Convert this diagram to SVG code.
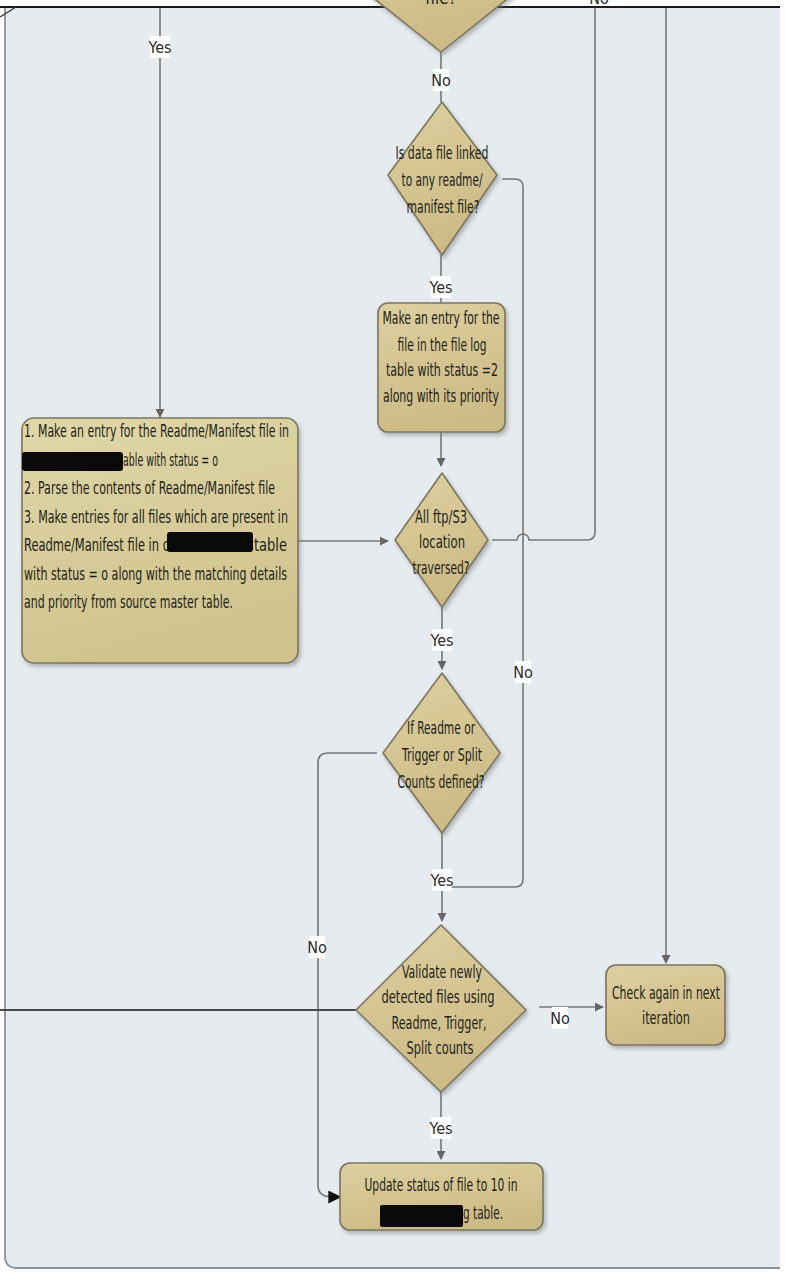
<svg xmlns="http://www.w3.org/2000/svg" width="785" height="1273" viewBox="0 0 785 1273">
  <defs>
    <linearGradient id="tan" x1="0" y1="0" x2="0.3" y2="1">
      <stop offset="0" stop-color="#ddd0a0"/>
      <stop offset="1" stop-color="#cdbb86"/>
    </linearGradient>
    <linearGradient id="tanLight" x1="0" y1="0" x2="0.3" y2="1">
      <stop offset="0" stop-color="#e0d7a8"/>
      <stop offset="1" stop-color="#d0c38e"/>
    </linearGradient>
    <filter id="shadow" x="-10%" y="-10%" width="130%" height="130%">
      <feDropShadow dx="2" dy="3" stdDeviation="2" flood-color="#6d6d6d" flood-opacity="0.45"/>
    </filter>
    <marker id="arrow" viewBox="0 0 10 10" refX="9" refY="5" markerWidth="9" markerHeight="9" markerUnits="userSpaceOnUse" orient="auto">
      <path d="M0,0 L10,5 L0,10 Z" fill="#666"/>
    </marker>
    <marker id="arrowBlack" viewBox="0 0 10 10" refX="9" refY="5" markerWidth="13" markerHeight="13" markerUnits="userSpaceOnUse" orient="auto">
      <path d="M0,0 L10,5 L0,10 Z" fill="#111"/>
    </marker>
  </defs>
  <style>
    .shape { fill: url(#tan); stroke: #7c7560; stroke-width: 1.6; stroke-linejoin: round; filter: url(#shadow); }
    .shapeLight { fill: url(#tanLight); stroke: #7c7560; stroke-width: 1.6; stroke-linejoin: round; filter: url(#shadow); }
    .txt { font-family: "Liberation Sans Narrow", "DejaVu Sans Condensed", "Liberation Sans", sans-serif; font-size: 17px; fill: #221f18; }
    .mid { text-anchor: middle; }
    .conn { fill: none; stroke: #777; stroke-width: 1.6; }
    .lbl { fill: #ffffff; }
    .lbltxt { font-family: "Liberation Sans Narrow", "DejaVu Sans Condensed", "Liberation Sans", sans-serif; font-size: 16px; fill: #2b2b2b; text-anchor: middle; }
    .redact { fill: #0a0a0a; }
  </style>

  <!-- page -->
  <rect x="0" y="0" width="785" height="1273" fill="#ffffff"/>
  <!-- swimlane panel -->
  <path d="M5,8 H780 V1268 H17 Q5,1268 5,1256 Z" fill="#e5ebef"/>
  <path d="M5,8 V1256 Q5,1268 17,1268 H780" fill="none" stroke="#8e9296" stroke-width="1.8"/>
  <line x1="0" y1="7" x2="780" y2="7" stroke="#1a1a1a" stroke-width="1.8"/>
  <line x1="0" y1="17" x2="16" y2="7" stroke="#333" stroke-width="1.4"/>

  <!-- connectors -->
  <g id="connectors">
    <line class="conn" x1="160" y1="8" x2="160" y2="417" marker-end="url(#arrow)"/>
    <line class="conn" x1="441" y1="52" x2="441" y2="102"/>
    <line class="conn" x1="441" y1="255" x2="441" y2="303"/>
    <line class="conn" x1="441" y1="432" x2="441" y2="466" marker-end="url(#arrow)"/>
    <line class="conn" x1="298" y1="541" x2="388" y2="541" marker-end="url(#arrow)"/>
    <!-- not-traversed loop back to the top -->
    <path class="conn" d="M492,540 H517 A6,6 0 0 1 529,540 H587 Q595,540 595,532 V8"/>
    <!-- not linked: bypass to validation -->
    <path class="conn" d="M502,179 H515 Q523,179 523,187 V879 Q523,887 515,887 H450"/>
    <line class="conn" x1="442" y1="607" x2="442" y2="669" marker-end="url(#arrow)"/>
    <line class="conn" x1="442" y1="833" x2="442" y2="921" marker-end="url(#arrow)"/>
    <path class="conn" d="M377,753 H328 Q318,753 318,763 V1185 Q318,1197 332,1197" stroke="#555"/>
    <line x1="332" y1="1197" x2="340" y2="1197" stroke="#111" stroke-width="1.6" marker-end="url(#arrowBlack)"/>
    <line x1="0" y1="1010" x2="356" y2="1010" stroke="#4a4a4a" stroke-width="2.2"/>
    <line class="conn" x1="539" y1="1007" x2="603" y2="1007" marker-end="url(#arrow)"/>
    <line class="conn" x1="666" y1="8" x2="666" y2="963" marker-end="url(#arrow)"/>
    <line class="conn" x1="441" y1="1092" x2="441" y2="1159" marker-end="url(#arrow)"/>
  </g>

  <!-- connector labels -->
  <g id="labels">
    <rect class="lbl" x="150" y="36" width="20" height="22"/>
    <text class="lbltxt" x="160" y="53">Yes</text>
    <rect class="lbl" x="433" y="69" width="16" height="22"/>
    <text class="lbltxt" x="441" y="86">No</text>
    <rect class="lbl" x="591" y="-8" width="16" height="14"/>
    <text class="lbltxt" x="599" y="4">No</text>
    <rect class="lbl" x="431" y="276" width="20" height="22"/>
    <text class="lbltxt" x="441" y="293">Yes</text>
    <rect class="lbl" x="432" y="629" width="20" height="22"/>
    <text class="lbltxt" x="442" y="646">Yes</text>
    <rect class="lbl" x="515" y="661" width="16" height="22"/>
    <text class="lbltxt" x="523" y="678">No</text>
    <rect class="lbl" x="432" y="869" width="20" height="22"/>
    <text class="lbltxt" x="442" y="886">Yes</text>
    <rect class="lbl" x="309" y="936" width="16" height="22"/>
    <text class="lbltxt" x="317" y="953">No</text>
    <rect class="lbl" x="552" y="1007" width="16" height="22"/>
    <text class="lbltxt" x="560" y="1024">No</text>
    <rect class="lbl" x="431" y="1117" width="20" height="22"/>
    <text class="lbltxt" x="441" y="1134">Yes</text>
  </g>

  <!-- decision cut off at the top edge -->
  <g id="decision-readme-file">
    <polygon class="shape" points="441,-108 541,-28 441,52 341,-28"/>
    <text class="txt mid" x="441" y="4">file?</text>
  </g>

  <g id="decision-linked">
    <polygon class="shape" points="442,102 497,175 442,255 388,175"/>
    <text class="txt mid" x="442" y="159" textLength="93" lengthAdjust="spacingAndGlyphs">Is data file linked</text>
    <text class="txt mid" x="442" y="186" textLength="81" lengthAdjust="spacingAndGlyphs">to any readme/</text>
    <text class="txt mid" x="443" y="213" textLength="73" lengthAdjust="spacingAndGlyphs">manifest file?</text>
  </g>

  <g id="entry-file-log">
    <rect class="shape" x="378" y="303" width="127" height="129" rx="10"/>
    <text class="txt mid" x="441" y="324" textLength="117" lengthAdjust="spacingAndGlyphs">Make an entry for the</text>
    <text class="txt mid" x="442" y="351" textLength="89" lengthAdjust="spacingAndGlyphs">file in the file log</text>
    <text class="txt mid" x="442" y="376" textLength="112" lengthAdjust="spacingAndGlyphs">table with status =2</text>
    <text class="txt mid" x="441" y="402" textLength="116" lengthAdjust="spacingAndGlyphs">along with its priority</text>
  </g>

  <g id="readme-manifest-entry">
    <rect class="shapeLight" x="22" y="418" width="276" height="245" rx="12"/>
    <text class="txt" x="24" y="437" textLength="265" lengthAdjust="spacingAndGlyphs">1. Make an entry for the Readme/Manifest file in</text>
    <rect class="redact" x="22" y="452" width="101" height="19" rx="3"/>
    <text class="txt" x="123" y="466" textLength="95" lengthAdjust="spacingAndGlyphs">able with status = o</text>
    <text class="txt" x="24" y="494" textLength="251" lengthAdjust="spacingAndGlyphs">2. Parse the contents of Readme/Manifest file</text>
    <text class="txt" x="24" y="523" textLength="264" lengthAdjust="spacingAndGlyphs">3. Make entries for all files which are present in</text>
    <text class="txt" x="24" y="551" textLength="145" lengthAdjust="spacingAndGlyphs">Readme/Manifest  file in c</text>
    <rect class="redact" x="167" y="532" width="86" height="20" rx="3"/>
    <text class="txt" x="254" y="551" textLength="33" lengthAdjust="spacingAndGlyphs">table</text>
    <text class="txt" x="24" y="580" textLength="263" lengthAdjust="spacingAndGlyphs">with status = o along with the matching details</text>
    <text class="txt" x="24" y="608" textLength="209" lengthAdjust="spacingAndGlyphs">and priority from source master table.</text>
  </g>

  <g id="decision-traversed">
    <polygon class="shape" points="442,473 488,540 442,607 395,540"/>
    <text class="txt mid" x="441" y="523" textLength="52" lengthAdjust="spacingAndGlyphs">All ftp/S3</text>
    <text class="txt mid" x="442" y="548" textLength="46" lengthAdjust="spacingAndGlyphs">location</text>
    <text class="txt mid" x="441" y="574" textLength="57" lengthAdjust="spacingAndGlyphs">traversed?</text>
  </g>

  <g id="decision-counts-defined">
    <polygon class="shape" points="442,673 500,753 442,833 383,753"/>
    <text class="txt mid" x="441" y="734" textLength="68" lengthAdjust="spacingAndGlyphs">If Readme or</text>
    <text class="txt mid" x="442" y="761" textLength="80" lengthAdjust="spacingAndGlyphs">Trigger or Split</text>
    <text class="txt mid" x="441" y="788" textLength="87" lengthAdjust="spacingAndGlyphs">Counts defined?</text>
  </g>

  <g id="decision-validate">
    <polygon class="shape" points="441,925 526,1010 441,1092 356,1010"/>
    <text class="txt mid" x="442" y="978" textLength="80" lengthAdjust="spacingAndGlyphs">Validate newly</text>
    <text class="txt mid" x="438" y="1003" textLength="113" lengthAdjust="spacingAndGlyphs">detected files using</text>
    <text class="txt mid" x="439" y="1029" textLength="95" lengthAdjust="spacingAndGlyphs">Readme, Trigger,</text>
    <text class="txt mid" x="440" y="1054" textLength="67" lengthAdjust="spacingAndGlyphs">Split counts</text>
  </g>

  <g id="check-next-iteration">
    <rect class="shape" x="606" y="965" width="119" height="80" rx="10"/>
    <text class="txt mid" x="666" y="999" textLength="108" lengthAdjust="spacingAndGlyphs">Check again in next</text>
    <text class="txt mid" x="666" y="1024" textLength="48" lengthAdjust="spacingAndGlyphs">iteration</text>
  </g>

  <g id="update-status">
    <rect class="shape" x="340" y="1163" width="203" height="67" rx="10"/>
    <text class="txt mid" x="441" y="1191" textLength="153" lengthAdjust="spacingAndGlyphs">Update status of file to 10 in</text>
    <rect class="redact" x="380" y="1205" width="83" height="22" rx="2"/>
    <text class="txt" x="463" y="1219" textLength="40" lengthAdjust="spacingAndGlyphs">g table.</text>
  </g>
</svg>
